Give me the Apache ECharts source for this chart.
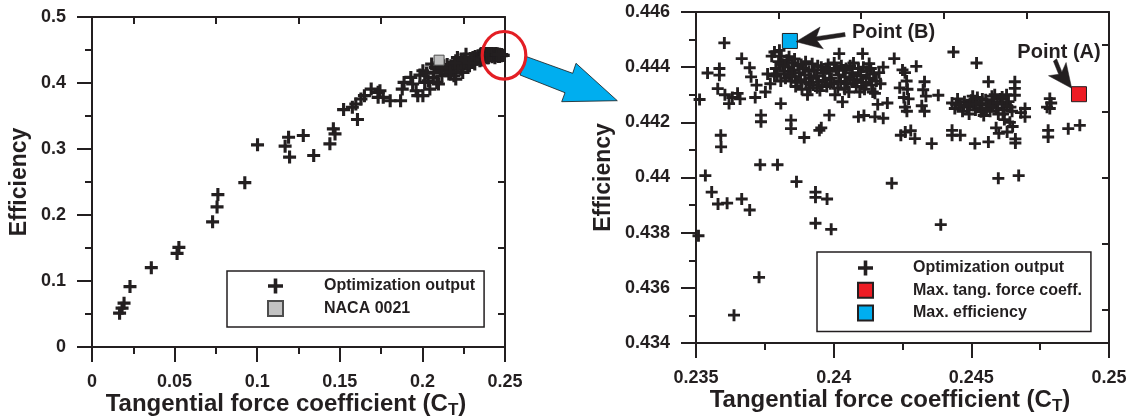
<!DOCTYPE html>
<html><head><meta charset="utf-8">
<script src="https://cdn.jsdelivr.net/npm/echarts@6/dist/echarts.min.js"></script>
<style>html,body{margin:0;padding:0;background:#fff}#c{width:1134px;height:420px}</style>
</head><body><div id="c"></div>
<script>
// ---- data ----
// full-range optimisation outputs with C_T below the zoom window
const lowerCtPoints = [
[0.0167,0.0513],[0.0182,0.0589],[0.0194,0.0664],[0.0230,0.0915],[0.0359,0.1202],
[0.0515,0.1418],[0.0526,0.1509],[0.0730,0.1896],[0.0757,0.2123],[0.0762,0.2309],
[0.0925,0.2490],[0.1002,0.3063],[0.1169,0.3043],[0.1196,0.2877],[0.1190,0.3179],
[0.1279,0.3204],[0.1342,0.2902],[0.1440,0.3078],[0.1461,0.3305],[0.1471,0.3229],
[0.1523,0.3597],[0.1576,0.3632],[0.1597,0.3682],[0.1607,0.3446],[0.1628,0.3758],
[0.1649,0.3808],[0.1690,0.3908],[0.1732,0.3858],[0.1743,0.3883],[0.1763,0.3783],
[0.1732,0.3783],[0.1805,0.3732],[0.1868,0.3732],[0.1878,0.3908],[0.1889,0.4009],
[0.1930,0.4085],[0.1941,0.3984],[0.1962,0.3883],[0.1972,0.3808],[0.2003,0.3808],
[0.2003,0.4185],[0.2014,0.4009],[0.2035,0.4034],[0.2045,0.3908],[0.2056,0.4286],
[0.2066,0.4085],[0.2077,0.4235],[0.2087,0.4009],[0.2097,0.3984],[0.2118,0.4110],
[0.2129,0.4261],[0.2139,0.4185],[0.2160,0.4135],[0.2160,0.4235],[0.2181,0.4210],
[0.2191,0.4110],[0.2202,0.4059],[0.2202,0.4336],[0.2212,0.4386],[0.2223,0.4286],
[0.2233,0.4210],[0.2244,0.4160],[0.2244,0.4261],[0.2254,0.4361],[0.2264,0.4311],
[0.2264,0.4437],[0.2275,0.4235],[0.2285,0.4261],[0.2296,0.4311],[0.2306,0.4386],
[0.2317,0.4286],[0.2327,0.4361],[0.2337,0.4411],[0.2348,0.4336],
[0.1985,0.4120],[0.2025,0.4150],[0.2070,0.4160],[0.2108,0.4190],[0.2150,0.4280],
[0.2170,0.4170],[0.2215,0.4230],[0.2250,0.4320],[0.2290,0.4370],[0.2320,0.4400],
[0.2340,0.4380],[0.2280,0.4300],[0.2235,0.4340],[0.2195,0.4300],[0.2120,0.4230]
];
// outputs inside the zoom window (0.235-0.25, 0.434-0.446)
const zoomPoints = [
[0.23513,0.44283],[0.23509,0.43789],[0.23534,0.44007],[0.23557,0.43947],[0.23580,0.43904],
[0.23613,0.43907],[0.23666,0.43922],[0.23695,0.43882],[0.23729,0.43638],[0.23638,0.43501],
[0.23542,0.44379],[0.23585,0.44395],[0.23585,0.44371],[0.23603,0.44488],[0.23579,0.44322],
[0.23590,0.44153],[0.23591,0.44111],[0.23605,0.44300],[0.23620,0.44268],[0.23632,0.44290],
[0.23651,0.44305],[0.23660,0.44285],[0.23666,0.44431],[0.23695,0.44398],[0.23700,0.44365],
[0.23720,0.44335],[0.23715,0.44290],[0.23736,0.44226],[0.23736,0.44202],[0.23733,0.44046],
[0.23796,0.44046],[0.23752,0.44310],[0.23770,0.44340],[0.23785,0.44368],[0.23760,0.44375],
[0.23808,0.44268],[0.23865,0.43985],[0.23934,0.43947],[0.23934,0.43928],[0.23976,0.43922],
[0.23934,0.43834],[0.23991,0.43812],[0.23845,0.44208],[0.23845,0.44177],[0.23893,0.44145],
[0.23948,0.44171],[0.23955,0.44180],[0.23984,0.44226],[0.23775,0.44440],[0.23785,0.44455],
[0.23790,0.44395],[0.23800,0.44420],[0.23803,0.44461],[0.23810,0.44440],[0.23815,0.44410],
[0.23820,0.44385],[0.23825,0.44360],[0.23830,0.44425],[0.23835,0.44400],[0.23840,0.44375],
[0.23845,0.44350],[0.23850,0.44415],[0.23855,0.44390],[0.23860,0.44365],[0.23862,0.44330],
[0.23870,0.44405],[0.23875,0.44380],[0.23880,0.44355],[0.23885,0.44320],[0.23890,0.44395],
[0.23895,0.44372],[0.23900,0.44345],[0.23905,0.44300],[0.23910,0.44385],[0.23918,0.44360],
[0.23925,0.44335],[0.23930,0.44390],[0.23938,0.44368],[0.23945,0.44345],[0.23950,0.44315],
[0.23955,0.44400],[0.23962,0.44378],[0.23968,0.44352],[0.23975,0.44330],[0.23980,0.44410],
[0.23985,0.44385],[0.23992,0.44360],[0.24000,0.44340],[0.24005,0.44300],[0.24010,0.44395],
[0.24018,0.44372],[0.24025,0.44348],[0.24020,0.44449],[0.24032,0.44274],[0.24035,0.44390],
[0.24042,0.44365],[0.24050,0.44340],[0.24055,0.44310],[0.24060,0.44405],[0.24068,0.44380],
[0.24075,0.44355],[0.24082,0.44330],[0.24090,0.44395],[0.24098,0.44370],[0.24105,0.44449],
[0.24105,0.44345],[0.24112,0.44320],[0.24120,0.44385],[0.24129,0.44413],[0.24130,0.44360],
[0.24138,0.44335],[0.24145,0.44375],[0.24090,0.44220],[0.24110,0.44225],[0.24150,0.44220],
[0.24180,0.44215],[0.24160,0.44265],[0.24195,0.44270],[0.24150,0.44305],[0.24220,0.44431],
[0.24250,0.44390],[0.24265,0.44350],[0.24240,0.44325],[0.24255,0.44290],[0.24180,0.44400],
[0.24170,0.44340],[0.24244,0.44153],[0.24260,0.44165],[0.24280,0.44170],[0.24300,0.44403],
[0.24259,0.44380],[0.24268,0.44320],[0.24272,0.44285],[0.24259,0.44255],[0.24266,0.44240],
[0.24330,0.44347],[0.24325,0.44318],[0.24335,0.44295],[0.24320,0.44260],[0.24330,0.44240],
[0.24380,0.44298],[0.24295,0.44141],[0.24356,0.44123],[0.24211,0.43979],[0.24389,0.43829],
[0.24435,0.44455],[0.24519,0.44415],[0.24430,0.44270],[0.24440,0.44250],[0.24450,0.44285],
[0.24460,0.44262],[0.24468,0.44240],[0.24475,0.44275],[0.24485,0.44255],[0.24492,0.44230],
[0.24500,0.44280],[0.24508,0.44262],[0.24515,0.44245],[0.24522,0.44290],[0.24530,0.44268],
[0.24538,0.44250],[0.24545,0.44225],[0.24552,0.44282],[0.24560,0.44262],[0.24568,0.44240],
[0.24575,0.44295],[0.24582,0.44272],[0.24590,0.44252],[0.24598,0.44230],[0.24605,0.44285],
[0.24612,0.44265],[0.24620,0.44245],[0.24628,0.44300],[0.24635,0.44275],[0.24642,0.44255],
[0.24562,0.44347],[0.24658,0.44347],[0.24658,0.44323],[0.24658,0.44298],[0.24695,0.44250],
[0.24695,0.44220],[0.24680,0.44235],[0.24430,0.44171],[0.24430,0.44153],[0.24460,0.44153],
[0.24513,0.44123],[0.24562,0.44129],[0.24590,0.44180],[0.24600,0.44160],[0.24630,0.44165],
[0.24650,0.44185],[0.24660,0.44140],[0.24660,0.44125],[0.24640,0.44200],[0.24620,0.44210],
[0.24785,0.44286],[0.24785,0.44250],[0.24775,0.44255],[0.24790,0.44270],[0.24779,0.44171],
[0.24779,0.44147],[0.24852,0.44177],[0.24894,0.44189],[0.24598,0.43997],[0.24672,0.44007],
[0.23795,0.44375],[0.23808,0.44350],[0.23822,0.44405],[0.23838,0.44438],[0.23848,0.44368],
[0.23858,0.44430],[0.23868,0.44345],[0.23882,0.44410],[0.23898,0.44420],[0.23912,0.44340],
[0.23922,0.44412],[0.23942,0.44405],[0.23958,0.44335],[0.23972,0.44395],[0.23988,0.44340],
[0.24002,0.44415],[0.24015,0.44325],[0.24028,0.44405],[0.24045,0.44395],[0.24058,0.44355],
[0.24072,0.44415],[0.24085,0.44345],[0.24095,0.44310],[0.24108,0.44400],[0.24118,0.44340],
[0.24135,0.44395],[0.24142,0.44310],[0.24155,0.44350],[0.24165,0.44380],[0.23940,0.44325],
[0.23915,0.44325],[0.24040,0.44320],[0.24445,0.44265],[0.24472,0.44258],[0.24495,0.44268],
[0.24518,0.44272],[0.24535,0.44238],[0.24555,0.44250],[0.24578,0.44258],[0.24595,0.44270],
[0.24615,0.44230],[0.24630,0.44260],[0.24648,0.44240],[0.24505,0.44295],[0.24585,0.44300],
[0.24540,0.44285],[0.24612,0.44292]
];
const nacaPoint = [[0.2101, 0.4346]];
const maxTangForcePoint = [[0.24891, 0.44302]];
const maxEfficiencyPoint = [[0.23841, 0.44495]];
const fullXTicksTop = [0.025, 0.075, 0.125, 0.175, 0.225];
const fullYTicksRight = [0.05, 0.15, 0.25, 0.35, 0.45];
const zoomXTicksTop = [0.238, 0.241, 0.244, 0.247];
const zoomYTicksRight = [0.4352, 0.4376, 0.44, 0.4424, 0.4448];
const seriesNames = ['Optimization output', 'NACA 0021', 'Max. tang. force coeff.', 'Max. efficiency'];
const xTitle = 'Tangential force coefficient (C{sub|T})';
const yTitle = 'Efficiency';

// ---- styling ----
const ink = '#231f20';
const font = '"Liberation Sans", Arial, sans-serif';
const plusPath = 'path://M3.8,0H6.2V3.8H10V6.2H6.2V10H3.8V6.2H0V3.8H3.8Z';

function mainAxis(gridIndex, position, min, max, interval, name, nameGap) {
  const isX = position === 'bottom';
  return {
    type: 'value', gridIndex, position, min, max, interval,
    name, nameLocation: 'middle', nameGap, nameMoveOverlap: false,
    nameTextStyle: isX ? {
      fontSize: 24, fontWeight: 'bold', color: ink, fontFamily: font, padding: [0, 25, 0, 0],
      rich: { sub: { fontSize: 17, fontWeight: 'bold', color: ink, fontFamily: font, padding: [12, 0, 0, 0] } }
    } : { fontSize: 23, fontWeight: 'bold', color: ink, fontFamily: font },
    axisLine: { show: true, onZero: false, lineStyle: { color: ink, width: 2 } },
    axisTick: { show: true, inside: false, length: 15, lineStyle: { color: ink, width: 2 } },
    minorTick: { show: true, splitNumber: 2, length: 7, lineStyle: { color: ink, width: 2 } },
    axisLabel: {
      show: true, margin: 26, color: ink, fontSize: 18, fontWeight: 'bold', fontFamily: font,
      showMinLabel: true, showMaxLabel: true, hideOverlap: false,
      formatter: v => String(+v.toFixed(4))
    },
    splitLine: { show: false }, minorSplitLine: { show: false }
  };
}
function frameAxis(gridIndex, position, min, max, ticks) {
  return {
    type: 'value', gridIndex, position, min, max,
    axisLine: { show: true, onZero: false, lineStyle: { color: ink, width: 2 } },
    axisTick: { show: true, inside: true, length: 7, customValues: ticks, lineStyle: { color: ink, width: 2 } },
    axisLabel: { show: false }, splitLine: { show: false }
  };
}
const legendText = pad => ({ fontSize: 16, fontWeight: 'bold', color: ink, fontFamily: font, padding: [0, 0, 0, pad] });

const chart = echarts.init(document.getElementById('c'), null, { renderer: 'canvas' });
chart.setOption({
  animation: false,
  backgroundColor: '#fff',
  textStyle: { fontFamily: font },
  grid: [
    { left: 92, top: 17, width: 413, height: 330, containLabel: false, outerBoundsMode: 'none' },
    { left: 696, top: 12, width: 413, height: 331, containLabel: false, outerBoundsMode: 'none' }
  ],
  xAxis: [
    mainAxis(0, 'bottom', 0, 0.25, 0.05, xTitle, 43),
    frameAxis(0, 'top', 0, 0.25, fullXTicksTop),
    mainAxis(1, 'bottom', 0.235, 0.25, 0.005, xTitle, 43),
    frameAxis(1, 'top', 0.235, 0.25, zoomXTicksTop)
  ],
  yAxis: [
    mainAxis(0, 'left', 0, 0.5, 0.1, yTitle, 61),
    frameAxis(0, 'right', 0, 0.5, fullYTicksRight),
    mainAxis(1, 'left', 0.434, 0.446, 0.002, yTitle, 81),
    frameAxis(1, 'right', 0.434, 0.446, zoomYTicksRight)
  ],
  legend: [
    {
      left: 227, top: 271, orient: 'vertical', padding: [7, 9, 10, 40], itemGap: 6,
      itemWidth: 15, itemHeight: 15, borderColor: ink, borderWidth: 1.5, backgroundColor: '#fff',
      selectedMode: false, data: [seriesNames[0], seriesNames[1]], textStyle: legendText(36)
    },
    {
      left: 817, top: 252, orient: 'vertical', padding: [8, 9, 10, 40], itemGap: 5.7,
      itemWidth: 15, itemHeight: 15, borderColor: ink, borderWidth: 1.5, backgroundColor: '#fff',
      selectedMode: false, data: [seriesNames[0], seriesNames[2], seriesNames[3]], textStyle: legendText(35)
    }
  ],
  series: [
    {
      type: 'scatter', name: seriesNames[0], xAxisIndex: 0, yAxisIndex: 0, clip: false,
      data: lowerCtPoints.concat(zoomPoints), symbol: plusPath, symbolSize: 13,
      itemStyle: { color: ink, opacity: 1 }
    },
    {
      type: 'scatter', name: seriesNames[1], xAxisIndex: 0, yAxisIndex: 0, clip: false,
      data: nacaPoint, symbol: 'rect', symbolSize: 10,
      itemStyle: { color: '#c2c2c2', borderColor: '#4d4d4d', borderWidth: 1, opacity: 1 }
    },
    {
      type: 'scatter', name: seriesNames[0], xAxisIndex: 2, yAxisIndex: 2, clip: false,
      data: zoomPoints, symbol: plusPath, symbolSize: 12,
      itemStyle: { color: ink, opacity: 1 }
    },
    {
      type: 'scatter', name: seriesNames[2], xAxisIndex: 2, yAxisIndex: 2, clip: false,
      data: maxTangForcePoint, symbol: 'rect', symbolSize: 15,
      itemStyle: { color: '#ed1c24', borderColor: ink, borderWidth: 1, opacity: 1 },
      label: {
        show: true, position: 'top', offset: [-20, -19], formatter: 'Point (A)',
        fontSize: 20, fontWeight: 'bold', color: ink, fontFamily: font
      }
    },
    {
      type: 'scatter', name: seriesNames[3], xAxisIndex: 2, yAxisIndex: 2, clip: false,
      data: maxEfficiencyPoint, symbol: 'rect', symbolSize: 15,
      itemStyle: { color: '#00aeef', borderColor: ink, borderWidth: 1, opacity: 1 },
      label: {
        show: true, position: 'right', offset: [49, -8], formatter: 'Point (B)',
        fontSize: 20, fontWeight: 'bold', color: ink, fontFamily: font
      }
    }
  ],
  graphic: [
    {
      type: 'polygon', z: 100, silent: true,
      shape: { points: [[526.7, 56.7], [572.7, 73.3], [576, 63.3], [617.3, 100.7], [561.7, 101.7], [565, 92.7], [520, 75]] },
      style: { fill: '#00aeef', stroke: '#1a1a1a', lineWidth: 0.8 }
    },
    {
      type: 'ellipse', z: 101, silent: true,
      shape: { cx: 504, cy: 55.3, rx: 21.8, ry: 23.8 },
      style: { fill: 'none', stroke: '#e31e24', lineWidth: 3.2 }
    },
    {
      // arrow pointing to Point (B)
      type: 'polygon', z: 100, silent: true,
      shape: { points: [[796, 41.7], [820.1, 27.0], [816.5, 36.7], [844.7, 32.5], [845.3, 36.5], [817.1, 40.7], [823.3, 48.8]] },
      style: { fill: ink, stroke: ink, lineWidth: 0.5 }
    },
    {
      // arrow pointing to Point (A)
      type: 'polygon', z: 100, silent: true,
      shape: { points: [[1071.7, 88.3], [1048.5, 75.7], [1058.7, 74.3], [1053.4, 61.2], [1056.6, 58.8], [1061.9, 71.9], [1066.1, 62.5]] },
      style: { fill: ink, stroke: ink, lineWidth: 0.5 }
    }
  ]
});
</script>
</body></html>
